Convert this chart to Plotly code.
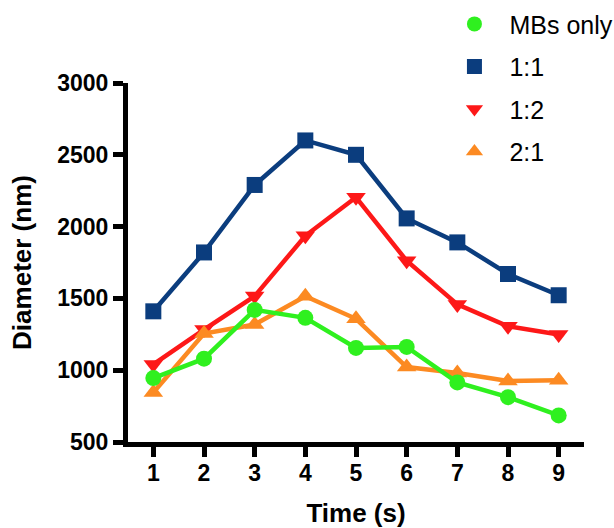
import plotly.graph_objects as go

time_s = [1, 2, 3, 4, 5, 6, 7, 8, 9]
series_names = ["MBs only", "1:1", "1:2", "2:1"]
mbs_only = [945, 1080, 1420, 1365, 1155, 1162, 915, 812, 685]
ratio_1_1 = [1410, 1820, 2290, 2600, 2500, 2057, 1890, 1670, 1522]
ratio_1_2 = [1040, 1283, 1516, 1936, 2204, 1762, 1458, 1306, 1248]
ratio_2_1 = [845, 1255, 1318, 1515, 1358, 1022, 980, 925, 930]
y_ticks = [500, 1000, 1500, 2000, 2500, 3000]

colors = ["#2ff01f", "#0b3d7e", "#fd1818", "#fc8a22"]
symbols = ["circle", "square", "triangle-down", "triangle-up"]
sizes = [16, 16, 17, 17]
data = [mbs_only, ratio_1_1, ratio_1_2, ratio_2_1]

FONT = "Arial, Liberation Sans, sans-serif"

fig = go.Figure()
# data traces (draw order: 1:1, 1:2, 2:1, MBs only on top)
for i in [1, 2, 3, 0]:
    fig.add_trace(go.Scatter(
        x=time_s, y=data[i], mode="lines+markers", name=series_names[i],
        line=dict(color=colors[i], width=4.5),
        marker=dict(symbol=symbols[i], size=sizes[i], color=colors[i]),
        showlegend=False,
    ))
# legend-only marker entries
for i in range(4):
    fig.add_trace(go.Scatter(
        x=[None], y=[None], mode="markers", name=series_names[i],
        marker=dict(symbol=symbols[i], size=15, color=colors[i]),
        legendgroup=series_names[i], showlegend=True,
    ))

axis_common = dict(
    showline=True, linecolor="black", linewidth=5,
    ticks="outside", ticklen=10, tickwidth=5, tickcolor="black",
    showgrid=False, zeroline=False, automargin=False,
    tickfont=dict(family=FONT, size=23, color="black", weight="bold"),
)

fig.update_layout(
    width=614, height=528,
    margin=dict(l=128, r=30, t=83, b=86, autoexpand=False),
    paper_bgcolor="white", plot_bgcolor="white",
    xaxis=dict(range=[0.5, 9.5], tickvals=time_s, **axis_common,
               ticklabelstandoff=-4,
               title=dict(text="Time (s)", standoff=22,
                          font=dict(family=FONT, size=26, color="black", weight="bold"))),
    yaxis=dict(range=[500, 3000], tickvals=y_ticks, **axis_common,
               ticklabelstandoff=0,
               title=dict(text="Diameter (nm)", standoff=20,
                          font=dict(family=FONT, size=26, color="black", weight="bold"))),
    legend=dict(x=0.683, y=1.228, xanchor="left", yanchor="top",
                font=dict(family=FONT, size=25, color="black"),
                traceorder="grouped", tracegroupgap=7,
                itemwidth=60, bgcolor="rgba(0,0,0,0)"),
    showlegend=True,
)

fig.write_html("out.html", post_script="document.body.style.margin='0';",
               config={"displayModeBar": False})
